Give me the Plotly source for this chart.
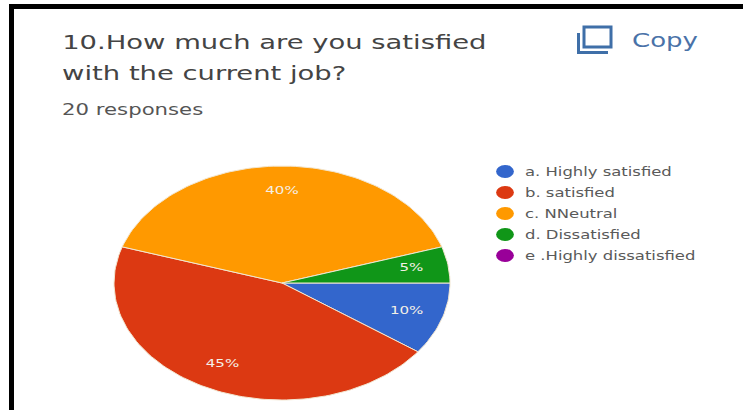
import math
import plotly.graph_objects as go

# Survey responses for question 10
categories = ["a. Highly satisfied", "b. satisfied", "c. NNeutral", "d. Dissatisfied", "e .Highly dissatisfied"]
shares = [10, 45, 40, 5, 0]
colors = ["#3366cc", "#dc3912", "#ff9900", "#109618", "#990099"]

WIDTH, HEIGHT = 743, 410
CX, CY, RX, RY = 282, 283, 168, 117
LABEL_RADIUS = 0.78
STEP_DEG = 1.5
TEXT_STRETCH = 1.37  # the whole layout is wider than tall, so lettering is too

fig = go.Figure()

# Pie slices run clockwise from 3 o'clock on a unit circle; the unequal
# axis scales below turn that circle into an ellipse.
total = sum(shares)
start = 0.0
for name, share, color in zip(categories, shares, colors):
    sweep = 360.0 * share / total
    if share > 0:
        n = max(2, int(sweep / STEP_DEG))
        angles = [math.radians(start + sweep * i / n) for i in range(n + 1)]
        xs = [0.0] + [math.cos(a) for a in angles] + [0.0]
        ys = [0.0] + [-math.sin(a) for a in angles] + [0.0]
        fig.add_trace(go.Scatter(
            x=xs, y=ys, mode="lines", fill="toself", fillcolor=color,
            line=dict(color="#f2e6d0", width=1), legendgroup=name,
            showlegend=False, hoverinfo="text", text=f"{name}: {share}%",
        ))
        mid = math.radians(start + sweep / 2)
        fig.add_trace(go.Scatter(
            x=[LABEL_RADIUS * math.cos(mid)], y=[-LABEL_RADIUS * math.sin(mid)],
            mode="text", text=[f"{share}%"], legendgroup=name, showlegend=False,
            textfont=dict(family="DejaVu Sans", size=11, color="#f4efe6"),
            hoverinfo="skip",
        ))
    # Legend entry with a round marker, one per category
    fig.add_trace(go.Scatter(
        x=[None], y=[None], mode="markers", name=name, legendgroup=name,
        marker=dict(color=color, size=13, symbol="circle"),
    ))
    start += sweep

fig.update_xaxes(range=[-CX / RX, (WIDTH - CX) / RX], visible=False, domain=[0, 1])
fig.update_yaxes(range=[-(HEIGHT - CY) / RY, CY / RY], visible=False, domain=[0, 1])


def px(x):
    return x / WIDTH


def py(y):
    return 1 - y / HEIGHT


def label(text, x, y, size, color, family="DejaVu Sans"):
    return dict(
        text=text, x=px(x), y=py(y), xref="paper", yref="paper", xanchor="left",
        yanchor="middle", showarrow=False, font=dict(family=family, size=size, color=color),
    )


def rect(x0, y0, x1, y1, **style):
    return dict(type="rect", xref="paper", yref="paper", x0=px(x0), y0=py(y0), x1=px(x1), y1=py(y1), **style)


ICON = "#3f6fa8"
fig.update_layout(
    width=WIDTH, height=HEIGHT, margin=dict(l=0, r=0, t=0, b=0),
    paper_bgcolor="white", plot_bgcolor="white",
    legend=dict(
        x=px(485), y=py(157), xanchor="left", yanchor="top", bgcolor="rgba(0,0,0,0)",
        font=dict(family="DejaVu Sans", size=12, color="#5a5a5a"),
        tracegroupgap=2, itemwidth=30,
    ),
    annotations=[
        label("10.How much are you satisfied", 60, 42, 20, "#444444"),
        label("with the current job?", 60, 73, 20, "#444444"),
        label("20 responses", 60, 110, 15.5, "#555555"),
        label("Copy", 630, 40, 19, "#4a72a8"),
    ],
    shapes=[
        # Black frame along the top and left edges
        rect(9, 4, WIDTH, 9, fillcolor="black", line_width=0),
        rect(9, 4, 14, HEIGHT, fillcolor="black", line_width=0),
        # Copy icon: front square plus the offset back edge
        rect(584, 27, 611, 47, line=dict(color=ICON, width=3)),
        rect(577, 33, 580, 54, fillcolor=ICON, line_width=0),
        rect(577, 51, 608, 54, fillcolor=ICON, line_width=0),
    ],
)

# Widen the lettering and legend dots horizontally once the plot is drawn.
stretch_script = """
var gd = document.getElementById('{plot_id}');
var sx = %s;
function widen(el, pivot) {
  var b = el.getBBox();
  var x0 = pivot === 'middle' ? b.x + b.width / 2 : b.x;
  var old = el.getAttribute('transform') || '';
  el.setAttribute('transform', old + ' translate(' + (x0 * (1 - sx)) + ',0) scale(' + sx + ',1)');
}
gd.querySelectorAll('.annotation-text, .legendtext').forEach(function (t) { widen(t, 'start'); });
gd.querySelectorAll('.textpoint text').forEach(function (t) { widen(t, 'middle'); });
gd.querySelectorAll('.legendpoints path').forEach(function (p) {
  var old = p.getAttribute('transform') || '';
  p.setAttribute('transform', old + ' scale(' + sx + ',1)');
});
gd.querySelectorAll('.legend .scrollbox').forEach(function (s) { s.removeAttribute('clip-path'); s.style.clipPath = 'none'; });
gd.querySelectorAll('.legend').forEach(function (s) { s.style.overflow = 'visible'; });
""" % TEXT_STRETCH

fig.write_html("out.html", post_script=stretch_script)
